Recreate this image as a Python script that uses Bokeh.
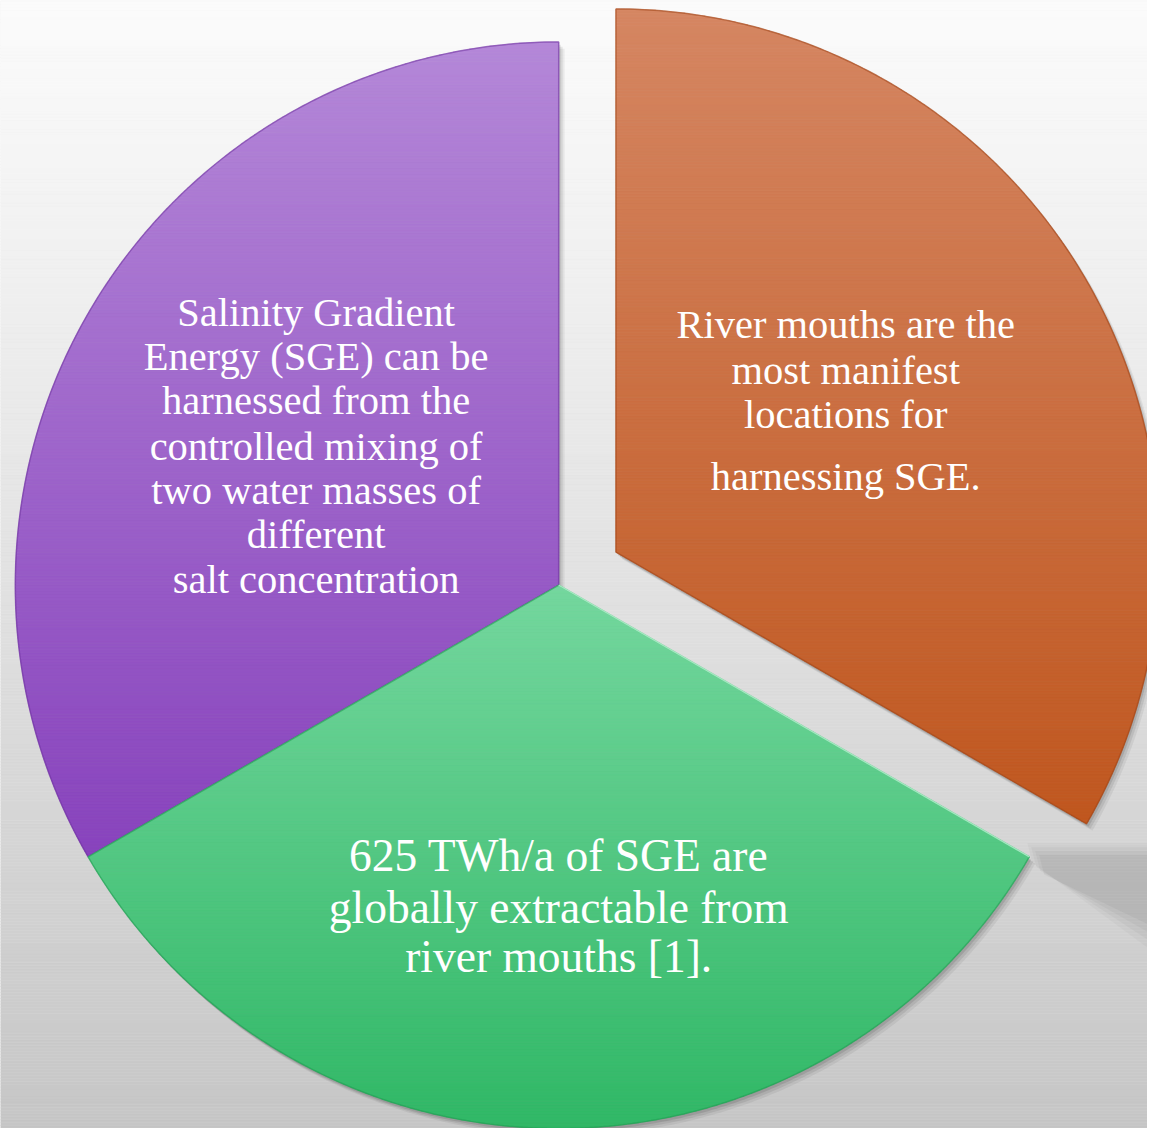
import numpy as np
from bokeh.plotting import figure
from bokeh.core.properties import value
from bokeh.embed import file_html
from bokeh.resources import INLINE

# ---------------- data ----------------
categories = ["SGE definition", "Global potential", "River mouths"]
values = [1, 1, 1]
explode = [0, 0, 67]
top_colors = ["#b487d8", "#74d79e", "#d58662"]
bottom_colors = ["#8843bd", "#30b866", "#c0571f"]
edge_colors = ["#6e2f9e", "#1f9a50", "#9e4416"]
label_lines = [
    ["Salinity Gradient", "Energy (SGE) can be", "harnessed from the",
     "controlled mixing of", "two water masses of", "different", "salt concentration"],
    ["625 TWh/a of SGE are", "globally extractable from", "river mouths [1]."],
    ["River mouths are the", "most manifest", "locations for", "harnessing SGE."],
]

# ---------------- layout ----------------
W, H = 1147, 1128          # pixel size of the figure
XR, YR = 1163, 1144        # data space (reference pixel space)
CX, CY, R = 566, 551, 551
START_DEG = 90
label_anchor = [(320, 828), (566, 277), (857, 815)]
label_offsets = [
    [0, 45, 90, 136, 181, 226, 271],
    [0, 53, 103],
    [0, 46, 91, 154],
]
label_size = ["40.5px", "45.5px", "40.5px"]
FONT = "Liberation Serif"


def hex2rgb(h):
    h = h.lstrip("#")
    return np.array([int(h[i:i + 2], 16) for i in (0, 2, 4)], dtype=float)


def rgb2hex(c):
    c = np.clip(np.round(c), 0, 255).astype(int)
    return "#%02x%02x%02x" % tuple(c)


def clip(poly, y, keep_above):
    out = []
    n = len(poly)
    for i in range(n):
        cur = poly[i]
        prev = poly[i - 1]
        cin = cur[1] >= y if keep_above else cur[1] <= y
        pin = prev[1] >= y if keep_above else prev[1] <= y
        if cin:
            if not pin:
                t = (y - prev[1]) / (cur[1] - prev[1])
                out.append((prev[0] + t * (cur[0] - prev[0]), y))
            out.append(cur)
        elif pin:
            t = (y - prev[1]) / (cur[1] - prev[1])
            out.append((prev[0] + t * (cur[0] - prev[0]), y))
    return out


p = figure(width=W, height=H, x_range=(0, XR), y_range=(0, YR),
           output_backend="svg", toolbar_location=None,
           min_border=0, outline_line_color=None)
p.axis.visible = False
p.grid.visible = False
p.background_fill_color = "#f4f4f4"
p.border_fill_color = "#f4f4f4"

# background vertical gradient
step = 3
ys = np.arange(0, YR, step)
top_bg, bot_bg = hex2rgb("#fbfbfb"), hex2rgb("#c6c6c6")
bg_cols = []
for y in ys:
    t = 1 - (y + step / 2) / YR
    t = t ** 1.1
    bg_cols.append(rgb2hex(top_bg + (bot_bg - top_bg) * t))
p.quad(left=0, right=XR, bottom=ys, top=ys + step, fill_color=bg_cols,
       line_color=bg_cols, line_width=0.5)

# slice geometry
total = float(sum(values))
angles = []
a = np.deg2rad(START_DEG)
for v in values:
    span = 2 * np.pi * v / total
    angles.append((a, a + span))
    a += span

polys = []
for i, (a0, a1) in enumerate(angles):
    mid = (a0 + a1) / 2
    ox = CX + explode[i] * np.cos(mid)
    oy = CY + explode[i] * np.sin(mid)
    th = np.linspace(a0, a1, 240)
    pts = [(ox, oy)] + list(zip(ox + R * np.cos(th), oy + R * np.sin(th)))
    polys.append(pts)

# soft grey shadow on the right (from the green slice's outer tip)
tip = polys[1][-1]
for k, al in enumerate([0.06, 0.07, 0.08, 0.09]):
    d = k * 4
    sx = [tip[0] - 2 + d, XR, XR, tip[0] + 3 + d]
    sy = [tip[1] + 14 - d, tip[1] + 14 - d, tip[1] - 92 + d * 2, tip[1] - 6 - d]
    p.patch(sx, sy, fill_color="#707070", fill_alpha=al, line_color=None)

# drop shadows
for pts in polys:
    xs = [q[0] for q in pts]
    ys_ = [q[1] for q in pts]
    for dx, dy, al in [(6, -7, 0.06), (4, -5, 0.08), (2, -3, 0.10)]:
        p.patch([x + dx for x in xs], [y + dy for y in ys_],
                fill_color="#000000", fill_alpha=al, line_color=None)

# gradient-filled slices
band = 3
for i, pts in enumerate(polys):
    yv = [q[1] for q in pts]
    ymin, ymax = min(yv), max(yv)
    c0, c1 = hex2rgb(top_colors[i]), hex2rgb(bottom_colors[i])
    bx, by, bc = [], [], []
    y = ymin
    while y < ymax:
        y1 = min(y + band, ymax)
        poly = clip(clip(pts, y, True), y1, False)
        if len(poly) >= 3:
            t = (ymax - (y + y1) / 2) / (ymax - ymin)
            bx.append([q[0] for q in poly])
            by.append([q[1] for q in poly])
            bc.append(rgb2hex(c0 + (c1 - c0) * t))
        y = y1
    p.patches(bx, by, fill_color=bc, line_color=bc, line_width=0.8)
    p.patch([q[0] for q in pts], [q[1] for q in pts], fill_color=None,
            line_color=edge_colors[i], line_alpha=0.55, line_width=1.5)

# light highlight on green slice straight edge
g = polys[1]
p.line([g[0][0], g[-1][0]], [g[0][1], g[-1][1]], line_color="#b8f5d2",
       line_alpha=0.8, line_width=1.5)

# labels
for i, lines in enumerate(label_lines):
    ax, ay = label_anchor[i]
    p.text(x=[ax] * len(lines), y=[ay - o for o in label_offsets[i]], text=lines,
           text_font=value(FONT), text_font_size=label_size[i],
           text_color="#ffffff", text_align="center",
           text_baseline="alphabetic")

open("out.html", "w").write(file_html(p, INLINE))
